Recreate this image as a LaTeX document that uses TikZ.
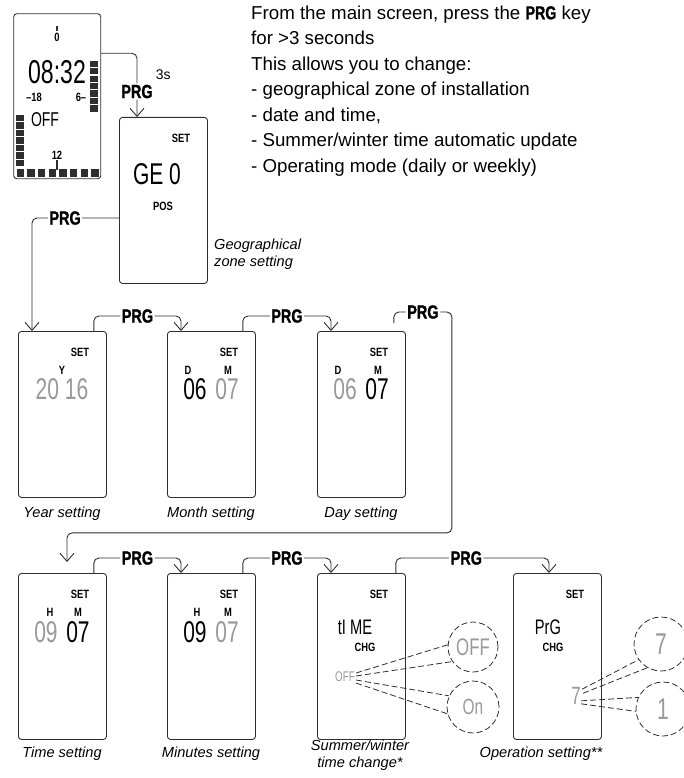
\documentclass[tikz,border=0pt]{standalone}
\usepackage{fontspec}
\setmainfont{Liberation Sans}
\newfontfamily\prgfont{Liberation Sans}[FakeStretch=0.78]
\newfontfamily\keyfont{Liberation Sans}[FakeStretch=0.76, FakeBold=1.2]
\newfontfamily\lcdfont{Liberation Sans}[FakeStretch=0.7]
\usetikzlibrary{arrows.meta}
\usetikzlibrary{calc}
\definecolor{lcdgray}{gray}{0.6}
\definecolor{ink}{gray}{0.18}

\tikzset{
  screen/.style={draw=ink, line width=0.9pt, rounded corners=3pt, minimum width=88pt,
    minimum height=166pt, inner sep=0pt, anchor=north west},
  flow/.style={draw=ink, line width=0.9pt, rounded corners=5pt,
    -{Straight Barb[length=8pt,width=14pt]}},
  prg/.style={fill=white, inner sep=1.5pt, font=\keyfont\bfseries\fontsize{19}{19}\selectfont},
  lcdtag/.style={inner sep=0pt, font=\prgfont\bfseries\fontsize{12}{12}\selectfont},
  lcd/.style={inner sep=0pt, font=\lcdfont\fontsize{#1}{#1}\selectfont},
  faded/.style={text=lcdgray},
  captiontext/.style={inner sep=0pt, align=center, font=\itshape\fontsize{14.6}{17}\selectfont},
  bubble/.style={draw=ink, line width=0.8pt, dash pattern=on 6pt off 3pt},
  bubbledisk/.style={bubble, circle, inner sep=0pt, minimum size=#1},
}

\begin{document}
\begin{tikzpicture}[x=1pt,y=-1pt]
  \useasboundingbox (0,0) rectangle (683,778);

  \node[inner sep=0pt, anchor=north west, align=left, font=\fontsize{18.7}{25.5}\selectfont]
    (intro) at (251,5.5)
    {From the main screen, press the {\keyfont\bfseries PRG} key\\
     for >3 seconds\\
     This allows you to change:\\
     - geographical zone of installation\\
     - date and time,\\
     - Summer/winter time automatic update\\
     - Operating mode (daily or weekly)};

  % main screen
  \node[screen, minimum width=87pt, minimum height=165pt] (main) at (13.3,13.3) {};
  \draw[ink, line width=1.2pt] (57,26) -- (57,31);
  \node[lcdtag] (dial0) at (57,37) {0};
  \node[lcd=33] (clock) at (57,72) {08:32};
  \node[lcdtag] (dialL) at (34,97) {–18};
  \node[lcdtag] (dialR) at (81,97) {6–};
  \node[lcd=20] (mainoff) at (45,120) {OFF};
  \node[lcdtag] (dial12) at (57,155) {12};
  \draw[ink, line width=1.2pt] (57,160) -- (57,170);
  \foreach \i in {0,...,6} \fill[ink] (90,60.7+7.45*\i) rectangle ++(8.3,6.3);
  \foreach \i in {0,...,6} \fill[ink] (16,115+7.45*\i) rectangle ++(8,6.3);
  \foreach \i in {0,...,7} \fill[ink] (16.7+10.66*\i,169.3) rectangle ++(7.4,7.4);

  % geographical zone
  \node[screen] (geo) at (119,117) {};
  \node[lcdtag] (geoset) at (181,138) {SET};
  \node[lcd=30] (geotxt) at (157,174) {GE 0};
  \node[lcdtag] (geopos) at (163,206) {POS};
  \node[captiontext, align=left, anchor=north west] (geocap) at (214,239)
    {Geographical\\zone setting};

  % date row
  \node[screen] (year) at (18,331) {};
  \node[lcdtag] (yearset) at (80,352) {SET};
  \node[lcdtag] (yearY) at (62,370) {Y};
  \node[lcd=30, faded] (yeartxt) at (62,389) {20 16};
  \node[captiontext, anchor=base] (yearcap) at (62,517) {Year setting};

  \node[screen] (month) at (167,331) {};
  \node[lcdtag] (monthset) at (229,352) {SET};
  \node[lcdtag] (monthD) at (188,370) {D};
  \node[lcdtag] (monthM) at (228,370) {M};
  \node[lcd=30] (monthd) at (195,389) {06};
  \node[lcd=30, faded] (monthm) at (227,389) {07};
  \node[captiontext, anchor=base] (monthcap) at (211,517) {Month setting};

  \node[screen] (day) at (317,331) {};
  \node[lcdtag] (dayset) at (379,352) {SET};
  \node[lcdtag] (dayD) at (338,370) {D};
  \node[lcdtag] (dayM) at (378,370) {M};
  \node[lcd=30, faded] (dayd) at (345,389) {06};
  \node[lcd=30] (daym) at (377,389) {07};
  \node[captiontext, anchor=base] (daycap) at (361,517) {Day setting};

  % time row
  \node[screen] (time) at (18,573) {};
  \node[lcdtag] (timeset) at (80,594) {SET};
  \node[lcdtag] (timeH) at (50,612) {H};
  \node[lcdtag] (timeM) at (78,612) {M};
  \node[lcd=30, faded] (timeh) at (46,632) {09};
  \node[lcd=30] (timem) at (78,632) {07};
  \node[captiontext, anchor=base] (timecap) at (62,757) {Time setting};

  \node[screen] (minutes) at (167,573) {};
  \node[lcdtag] (minset) at (229,594) {SET};
  \node[lcdtag] (minH) at (197,612) {H};
  \node[lcdtag] (minM) at (228,612) {M};
  \node[lcd=30] (minh) at (195,632) {09};
  \node[lcd=30, faded] (minm) at (227,632) {07};
  \node[captiontext, anchor=base] (mincap) at (211,757) {Minutes setting};

  \node[screen] (summer) at (317,573) {};
  \node[lcdtag] (sumset) at (379,594) {SET};
  \node[lcd=21] (sumtxt) at (355,627) {tI ME};
  \node[lcdtag] (sumchg) at (365,647) {CHG};
  \node[lcd=14, faded] (sumoff) at (345,677) {OFF};
  \node[bubbledisk=50pt, lcd=24, faded] (offdisk) at (473,647) {OFF};
  \node[bubbledisk=52pt, lcd=22, faded] (ondisk) at (473,707) {On};
  \draw[bubble] ($(sumoff.east)+(1,-4)$) -- (offdisk.175);
  \draw[bubble] ($(sumoff.east)+(1,-1)$) -- (offdisk.215);
  \draw[bubble] ($(sumoff.east)+(1,3)$) -- (ondisk.155);
  \draw[bubble] ($(sumoff.east)+(1,6)$) -- (ondisk.195);
  \node[captiontext, anchor=north] (sumcap) at (360,740) {Summer/winter\\time change*};

  \node[screen] (operation) at (513,573) {};
  \node[lcdtag] (opset) at (575,594) {SET};
  \node[lcd=21] (optxt) at (548,627) {PrG};
  \node[lcdtag] (opchg) at (553,647) {CHG};
  \node[lcd=25, faded] (opseven) at (576,696) {7};
  \node[bubbledisk=54pt, lcd=30, faded] (sevendisk) at (661,644) {7};
  \node[bubbledisk=54pt, lcd=30, faded] (onedisk) at (663,709) {1};
  \draw[bubble] ($(opseven.north east)+(1,2)$) -- (sevendisk.215);
  \draw[bubble] ($(opseven.north east)+(2,6)$) -- (sevendisk.240);
  \draw[bubble] ($(opseven.south east)+(0,-4)$) -- (onedisk.155);
  \draw[bubble] ($(opseven.south east)+(0,-1)$) -- (onedisk.185);
  \node[captiontext, anchor=base] (opcap) at (541,757) {Operation setting**};

  % PRG steps
  \draw[flow] ($(main.north east)+(0,40)$) -| node[prg, pos=0.8] (prgstart) {PRG}
    ($(geo.north west)+(18,0)$);
  \node[inner sep=0pt, anchor=base west, font=\fontsize{14}{14}\selectfont] (hold)
    at ($(prgstart.north east)+(1,-3)$) {3s};
  \draw[flow] ($(geo.north west)+(0,101)$) -| node[prg, pos=0.31] {PRG}
    ($(year.north west)+(14,0)$);
  \draw[flow] ($(year.north east)+(-13,0)$) -- ++(0,-15) -| node[prg, pos=0.25] {PRG}
    ($(month.north west)+(14,0)$);
  \draw[flow] ($(month.north east)+(-13,0)$) -- ++(0,-15) -| node[prg, pos=0.25] {PRG}
    ($(day.north west)+(14,0)$);
  \coordinate (wrap) at ($(day.south east)+(46,35)$);
  \draw[flow] ($(day.north east)+(-12,-8)$) -- ++(0,-11) -| node[prg, pos=0.25] {PRG}
    (wrap) -| ($(time.north west)+(49,-11)$);
  \draw[flow] ($(time.north east)+(-13,0)$) -- ++(0,-15) -| node[prg, pos=0.25] {PRG}
    ($(minutes.north west)+(14,0)$);
  \draw[flow] ($(minutes.north east)+(-13,0)$) -- ++(0,-15) -| node[prg, pos=0.25] {PRG}
    ($(summer.north west)+(14,0)$);
  \draw[flow] ($(summer.north east)+(-10,0)$) -- ++(0,-15) -| node[prg, pos=0.23] {PRG}
    ($(operation.north west)+(36,0)$);
\end{tikzpicture}
\end{document}
